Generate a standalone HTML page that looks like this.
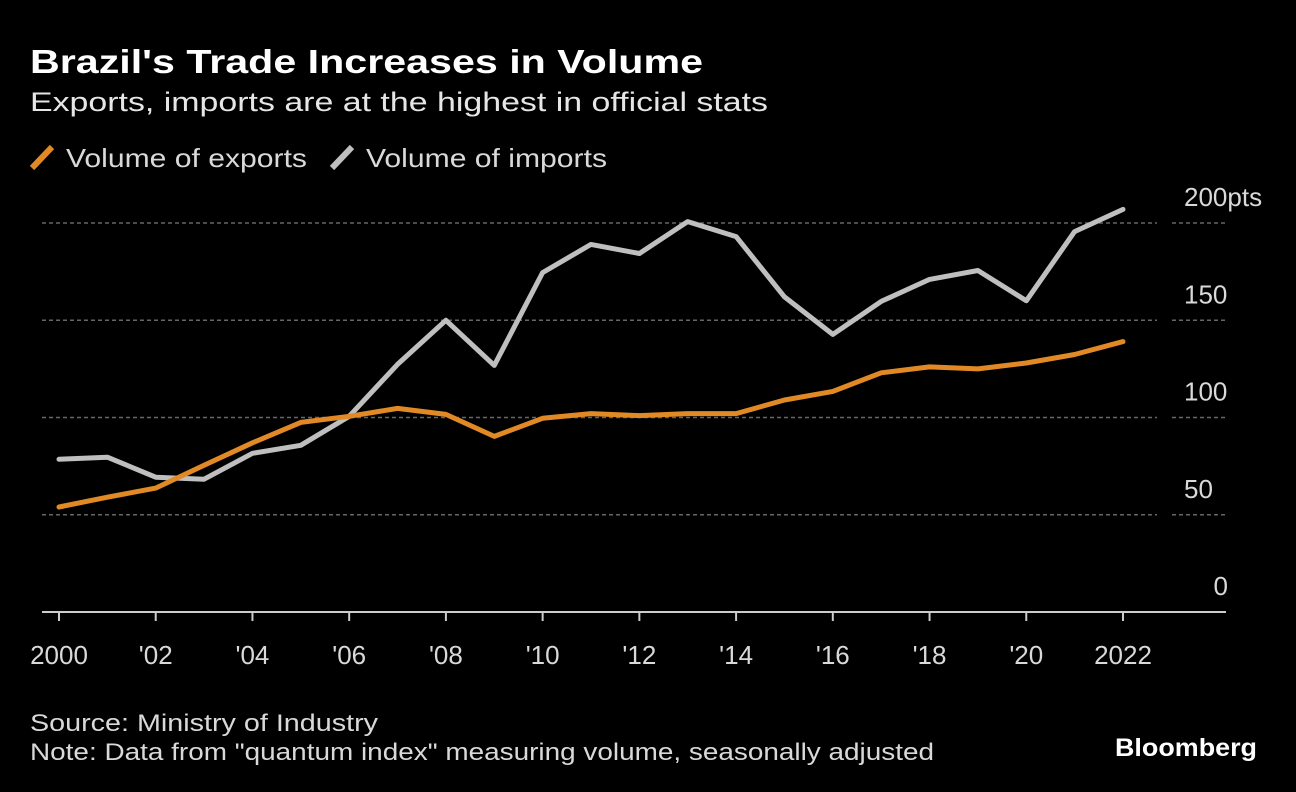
<!DOCTYPE html>
<html><head><meta charset="utf-8"><style>
html,body{margin:0;padding:0;background:#000;}
svg{display:block;font-family:"Liberation Sans",sans-serif;}
</style></head><body>
<svg id="chart" width="1296" height="792" viewBox="0 0 1296 792">
<rect x="0" y="0" width="1296" height="792" fill="#000"/>
<text x="30" y="73" fill="#fff" font-size="33" font-weight="bold" textLength="673" lengthAdjust="spacingAndGlyphs">Brazil's Trade Increases in Volume</text>
<text x="30" y="111" fill="#e6e6e6" font-size="27" textLength="738" lengthAdjust="spacingAndGlyphs">Exports, imports are at the highest in official stats</text>
<g>
<line x1="32" y1="168" x2="52" y2="147" stroke="#e18a25" stroke-width="6"/>
<text x="66" y="167" fill="#d9d9d9" font-size="26" textLength="241" lengthAdjust="spacingAndGlyphs">Volume of exports</text>
<line x1="332" y1="168" x2="352" y2="147" stroke="#bfbfbf" stroke-width="6"/>
<text x="366" y="167" fill="#d9d9d9" font-size="26" textLength="241" lengthAdjust="spacingAndGlyphs">Volume of imports</text>
</g>
<g id="grid"></g>
<g id="series"></g>
<g id="xaxis"></g>
<text x="30" y="731" fill="#d9d9d9" font-size="24" textLength="348" lengthAdjust="spacingAndGlyphs">Source: Ministry of Industry</text>
<text x="30" y="760" fill="#d9d9d9" font-size="24" textLength="904" lengthAdjust="spacingAndGlyphs">Note: Data from "quantum index" measuring volume, seasonally adjusted</text>
<text x="1115" y="756" fill="#fff" font-size="25" font-weight="bold" textLength="142" lengthAdjust="spacingAndGlyphs">Bloomberg</text>
</svg>
<script>
const years = [2000,2001,2002,2003,2004,2005,2006,2007,2008,2009,2010,2011,2012,2013,2014,2015,2016,2017,2018,2019,2020,2021,2022];
const exportsVol = [54,59,63.7,75.5,87,97.5,100.6,104.7,101.6,90.3,99.6,102,101,102,102,109,113.4,123,126,125,128,132.4,139];
const importsVol = [78.5,79.6,69.3,68.3,81.6,85.7,100.6,127.3,150,126.8,174.5,189,184.3,200.7,193,162,142.7,159.7,171,175.6,160,195.6,207];
const yTicks = [0,50,100,150,200];
const yTickLabels = ["0","50","100","150","200pts"];
const xTickYears = [2000,2002,2004,2006,2008,2010,2012,2014,2016,2018,2020,2022];
const xTickLabels = ["2000","'02","'04","'06","'08","'10","'12","'14","'16","'18","'20","2022"];

const NS="http://www.w3.org/2000/svg";
const X = y => 59 + (y-2000)*(1123-59)/22;
const Y = v => 612 - v*(612-223)/200;
function mk(tag, attrs, parent){const e=document.createElementNS(NS,tag);for(const k in attrs)e.setAttribute(k,attrs[k]);parent.appendChild(e);return e;}

const grid=document.getElementById('grid');
yTicks.forEach((t,i)=>{
  if(t>0){
    const g1=mk('line',{x1:42,x2:1157,y1:Y(t),y2:Y(t),stroke:'#666','stroke-width':1.5,'stroke-dasharray':'4,3'},grid);
    
    
    const g2=mk('line',{x1:1172,x2:1225,y1:Y(t),y2:Y(t),stroke:'#666','stroke-width':1.5,'stroke-dasharray':'4,3'},grid);
    
    
  }
  const tx=mk('text',{x:t===0?1228:1184,y:Y(t)-17,fill:'#d9d9d9','font-size':26,'text-anchor':t===0?'end':'start'},grid);
  tx.textContent=yTickLabels[i];
  
  
});

const xa=document.getElementById('xaxis');
const ax=mk('line',{x1:42,x2:1226,y1:612,y2:612,stroke:'#ccc','stroke-width':2},xa);


xTickYears.forEach((yr,i)=>{
  const tk=mk('line',{x1:X(yr),x2:X(yr),y1:612,y2:621,stroke:'#ccc','stroke-width':2},xa);
  
  
  const tl=mk('text',{x:X(yr),y:664,fill:'#d9d9d9','font-size':26,'text-anchor':'middle'},xa);
  tl.textContent=xTickLabels[i];
  
  
});

const sg=document.getElementById('series');
function line(vals,color,name){
  const d=vals.map((v,i)=>(i?'L':'M')+X(years[i]).toFixed(1)+','+Y(v).toFixed(1)).join('');
  const p=mk('path',{d:d,fill:'none',stroke:color,'stroke-width':5,'stroke-linejoin':'round','stroke-linecap':'round'},sg);
  
  
}
line(importsVol,'#bfbfbf','imports-line');
line(exportsVol,'#e18a25','exports-line');
</script>
</body></html>
